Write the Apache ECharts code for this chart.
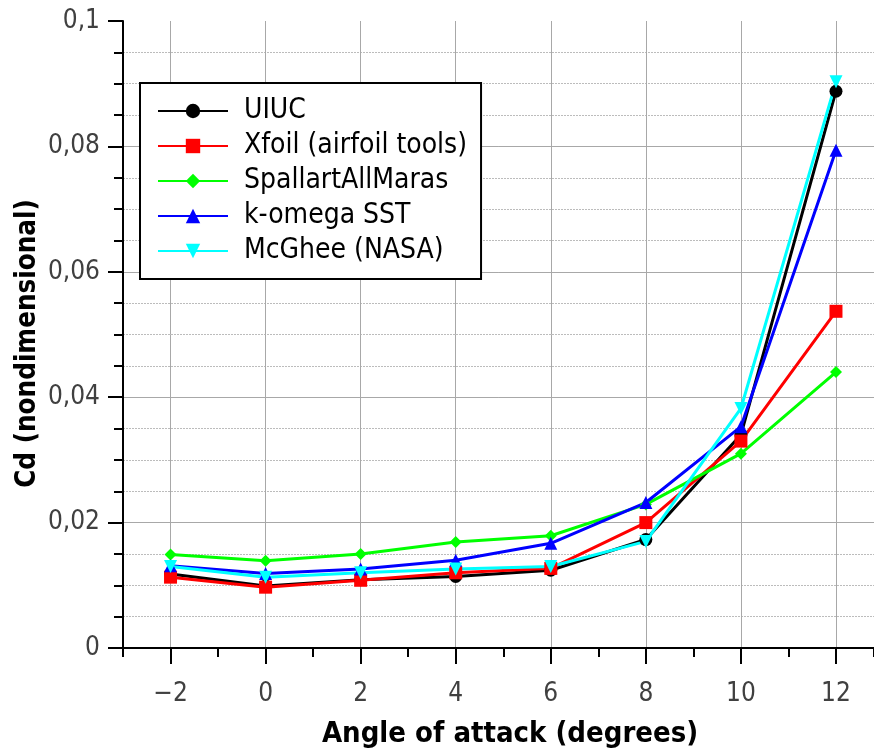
<!DOCTYPE html>
<html>
<head>
<meta charset="utf-8">
<script src="https://cdn.jsdelivr.net/npm/echarts@6.0.0/dist/echarts.min.js"></script>
<style>
  html, body { margin: 0; padding: 0; background: #fff; }
  #chart { width: 874px; height: 749px; }
</style>
</head>
<body>
<div id="chart"></div>
<script>
// angle of attack (degrees)
var angles = [-2, 0, 2, 4, 6, 8, 10, 12];

// drag coefficient per source
var uiuc    = [0.0118, 0.0099, 0.0109, 0.0114, 0.0124, 0.0173, 0.0340, 0.0888];
var xfoil   = [0.0113, 0.0097, 0.0108, 0.0120, 0.0127, 0.0200, 0.0330, 0.0537];
var spalart = [0.0149, 0.0139, 0.0150, 0.0169, 0.0179, 0.0229, 0.0310, 0.0440];
var komega  = [0.0131, 0.0119, 0.0126, 0.0140, 0.0167, 0.0232, 0.0353, 0.0794];
var mcghee  = [0.0130, 0.0113, 0.0120, 0.0126, 0.0130, 0.0170, 0.0382, 0.0903];

var xMajorTicks = [-2, 0, 2, 4, 6, 8, 10, 12];

var FONT = "'DejaVu Sans Condensed', 'DejaVu Sans', sans-serif";

function pairs(vals) {
    return angles.map(function (a, i) { return [a, vals[i]]; });
}

function line(name, vals, color, symbol, size, rotate) {
    return {
        name: name,
        type: 'line',
        xAxisIndex: 0,
        yAxisIndex: 0,
        data: pairs(vals),
        symbol: symbol,
        symbolSize: size,
        symbolRotate: rotate || 0,
        showAllSymbol: true,
        lineStyle: { width: 3, color: color },
        itemStyle: { color: color },
        emphasis: { disabled: true }
    };
}

var chart = echarts.init(document.getElementById('chart'));

chart.setOption({
    animation: false,
    backgroundColor: '#fff',
    grid: { left: 123, top: 21, right: 0, bottom: 101, containLabel: false, outerBoundsMode: 'none' },
    legend: {
        orient: 'vertical',
        left: 140,
        top: 83,
        padding: [13, 14, 13, 17],
        itemWidth: 70,
        itemHeight: 18,
        itemGap: 5,
        borderColor: '#000',
        borderWidth: 2,
        backgroundColor: '#fff',
        textStyle: {
            fontFamily: FONT,
            fontSize: 28,
            lineHeight: 30,
            color: '#000',
            padding: [0, 0, 0, 11]
        },
        data: ['UIUC', 'Xfoil (airfoil tools)', 'SpallartAllMaras', 'k-omega SST', 'McGhee (NASA)']
    },
    xAxis: [{
        // minor ticks at every degree
        type: 'value',
        min: -3,
        max: 12.8,
        interval: 1,
        axisLine: { show: true, onZero: false, lineStyle: { color: '#000', width: 2 } },
        axisTick: { show: true, length: 9, lineStyle: { color: '#000', width: 2 } },
        axisLabel: { show: false },
        splitLine: { show: false }
    }, {
        // major ticks, labels and grid at even angles
        type: 'value',
        position: 'bottom',
        min: -3,
        max: 12.8,
        interval: 1,
        axisLine: { show: false, onZero: false },
        axisTick: { show: true, length: 16, customValues: xMajorTicks, lineStyle: { color: '#000', width: 2 } },
        axisLabel: {
            customValues: xMajorTicks,
            margin: 33,
            fontFamily: FONT,
            fontSize: 26,
            color: '#404040',
            formatter: function (v) { return v < 0 ? '\u2212' + (-v) : String(v); }
        },
        splitLine: { show: true, lineStyle: { color: '#a8a8a8', width: 1 } },
        name: 'Angle of attack (degrees)',
        nameLocation: 'middle',
        nameGap: 72,
        nameTextStyle: { fontFamily: FONT, fontSize: 29, fontWeight: 'bold', color: '#000', padding: [0, 0, 0, 23] }
    }],
    yAxis: [{
        // minor ticks and dotted grid every 0.005
        type: 'value',
        min: 0,
        max: 0.1,
        interval: 0.005,
        axisLine: { show: true, onZero: false, lineStyle: { color: '#000', width: 2 } },
        axisTick: { show: true, length: 9, lineStyle: { color: '#000', width: 2 } },
        axisLabel: { show: false },
        splitLine: { show: true, showMaxLine: false, lineStyle: { color: '#bcbcbc', width: 1, type: [2, 1] } }
    }, {
        // major ticks, labels and solid grid every 0.02
        type: 'value',
        position: 'left',
        min: 0,
        max: 0.1,
        interval: 0.02,
        axisLine: { show: false, onZero: false },
        axisTick: { show: true, length: 15, lineStyle: { color: '#000', width: 2 } },
        axisLabel: {
            margin: 23,
            fontFamily: FONT,
            fontSize: 26,
            color: '#404040',
            formatter: function (v) { return String(+v.toFixed(3)).replace('.', ','); }
        },
        splitLine: { show: true, showMaxLine: false, lineStyle: { color: '#a8a8a8', width: 1 } },
        name: 'Cd (nondimensional)',
        nameLocation: 'middle',
        nameGap: 81,
        nameMoveOverlap: false,
        nameTextStyle: { fontFamily: FONT, fontSize: 27.5, fontWeight: 'bold', color: '#000', padding: [0, 18, 0, 0] }
    }],
    series: [
        line('UIUC', uiuc, '#000000', 'circle', 13),
        line('Xfoil (airfoil tools)', xfoil, '#ff0000', 'rect', 13),
        line('SpallartAllMaras', spalart, '#00ff00', 'diamond', 12),
        line('k-omega SST', komega, '#0000ff', 'triangle', 13),
        line('McGhee (NASA)', mcghee, '#00ffff', 'triangle', 13, 180)
    ]
});
</script>
</body>
</html>
